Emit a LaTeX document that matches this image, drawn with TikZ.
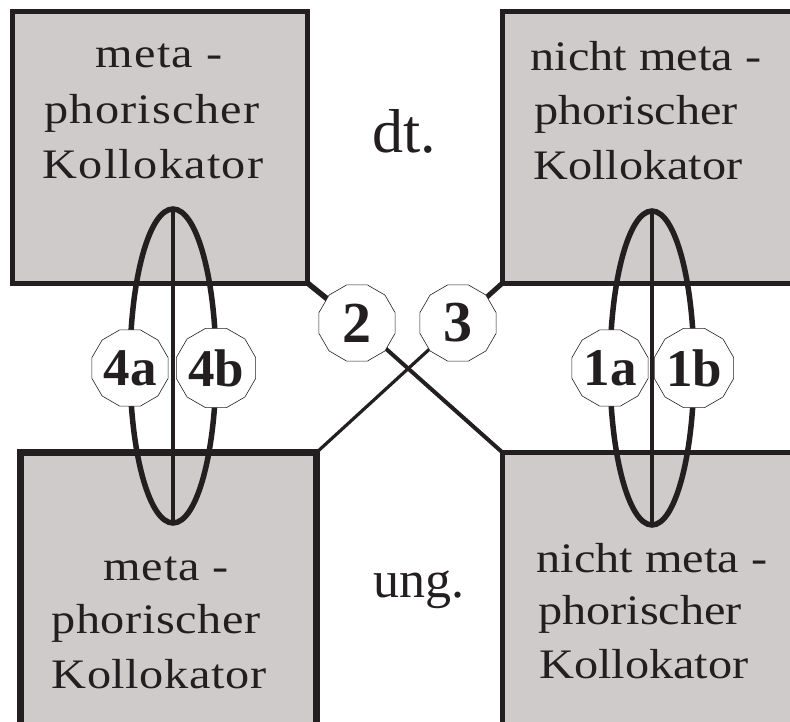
\documentclass[tikz,border=0pt]{standalone}
\usepackage{fontspec}
\setmainfont{Liberation Serif}
\newfontfamily\boxfont[FakeStretch=1.15]{Liberation Serif}
\newfontfamily\boxfontwide[FakeStretch=1.15,LetterSpace=3]{Liberation Serif}
\newfontfamily\boxfontmid[FakeStretch=1.15,LetterSpace=1.5]{Liberation Serif}
\usetikzlibrary{shapes.geometric}
\pgfdeclarelayer{boxes}
\pgfdeclarelayer{links}
\pgfsetlayers{boxes,links,main}

\definecolor{ink}{RGB}{35,31,32}
\definecolor{panel}{RGB}{208,203,203}

\begin{document}
\begin{tikzpicture}[x=1pt,y=-1pt,
  panelbox/.style={draw=ink, fill=panel, line width=5pt, inner sep=0pt, outer sep=0pt, anchor=north west},
  boxtext/.style={anchor=base, inner sep=0pt, text=ink},
  numcircle/.style={regular polygon, regular polygon sides=12, minimum size=79pt,
    inner sep=0pt, outer sep=0pt, draw=ink, line width=0.6pt, fill=white, text=ink,
    font=\bfseries\fontsize{53}{53}\selectfont},
  bignum/.style={font=\bfseries\fontsize{58}{58}\selectfont},
  link/.style={draw=ink, line width=4pt},
  lens/.style={ellipse, draw=ink, line width=5.5pt, minimum width=86pt, minimum height=314pt,
    inner sep=0pt, outer sep=0pt},
  lensaxis/.style={draw=ink, line width=4pt},
  bigword/.style={anchor=base, inner sep=0pt, text=ink},
]
\useasboundingbox (0,0) rectangle (790,722);
\clip (0,0) rectangle (790,722);

% the four panels
\begin{pgfonlayer}{boxes}
  \node[panelbox, minimum width=295pt, minimum height=271pt] (tl) at (12.5,12) {};
  \node[panelbox, minimum width=310pt, minimum height=271pt] (tr) at (502.5,12) {};
  \node[panelbox, line width=6.5pt, minimum width=296pt, minimum height=300pt] (bl) at (20.5,452.5) {};
  \node[panelbox, minimum width=310pt, minimum height=300pt] (br) at (502.5,452.5) {};
\end{pgfonlayer}

% panel texts
\node[boxtext, font=\boxfontwide\fontsize{42}{50}\selectfont] (tl1) at (159,68) {meta -};
\node[boxtext, font=\boxfontwide\fontsize{42}{50}\selectfont] (tl2) at (152,124) {phorischer};
\node[boxtext, font=\boxfontwide\fontsize{42}{50}\selectfont] (tl3) at (153,179) {Kollokator};

\node[boxtext, font=\boxfont\fontsize{42}{50}\selectfont] (tr1) at (646,71) {nicht meta -};
\node[boxtext, font=\boxfont\fontsize{42}{50}\selectfont] (tr2) at (636,125) {phorischer};
\node[boxtext, font=\boxfont\fontsize{42}{50}\selectfont] (tr3) at (638,180) {Kollokator};

\node[boxtext, font=\boxfontmid\fontsize{42}{50}\selectfont] (bl1) at (166,580) {meta -};
\node[boxtext, font=\boxfontmid\fontsize{42}{50}\selectfont] (bl2) at (156,633) {phorischer};
\node[boxtext, font=\boxfontmid\fontsize{42}{50}\selectfont] (bl3) at (159,688) {Kollokator};

\node[boxtext, font=\boxfont\fontsize{42}{50}\selectfont] (br1) at (652,572) {nicht meta -};
\node[boxtext, font=\boxfont\fontsize{42}{50}\selectfont] (br2) at (640,624) {phorischer};
\node[boxtext, font=\boxfont\fontsize{42}{50}\selectfont] (br3) at (644,678) {Kollokator};

% row labels
\node[bigword, font=\fontsize{62}{62}\selectfont] (dt) at (404,153) {dt.};
\node[bigword, font=\fontsize{52}{52}\selectfont] (ung) at (419,597) {ung.};

% numbered markers
\node[numcircle, bignum] (c2) at (357,323) {2};
\node[numcircle, bignum] (c3) at (458,323) {3};
\node[numcircle] (c4a) at (130,368) {4a};
\node[numcircle] (c4b) at (216,368) {4b};
\node[numcircle] (c1a) at (610,368) {1a};
\node[numcircle] (c1b) at (694,368) {1b};

% diagonal links and vertical lenses
\begin{pgfonlayer}{links}
  \draw[link, line width=5.5pt] (tl.south east) -- (c2.center);
  \draw[link] (c2.center) -- (br.north west);
  \draw[link, line width=5pt] (tr.south west) -- (c3.center);
  \draw[link, line width=3.2pt] (c3.center) -- (bl.north east);

  \node[lens] (lensL) at (173,366) {};
  \draw[lensaxis] (lensL.north) -- (lensL.south);
  \node[lens, minimum width=84pt] (lensR) at (652,368) {};
  \draw[lensaxis] (lensR.north) -- (lensR.south);
\end{pgfonlayer}
\end{tikzpicture}
\end{document}
